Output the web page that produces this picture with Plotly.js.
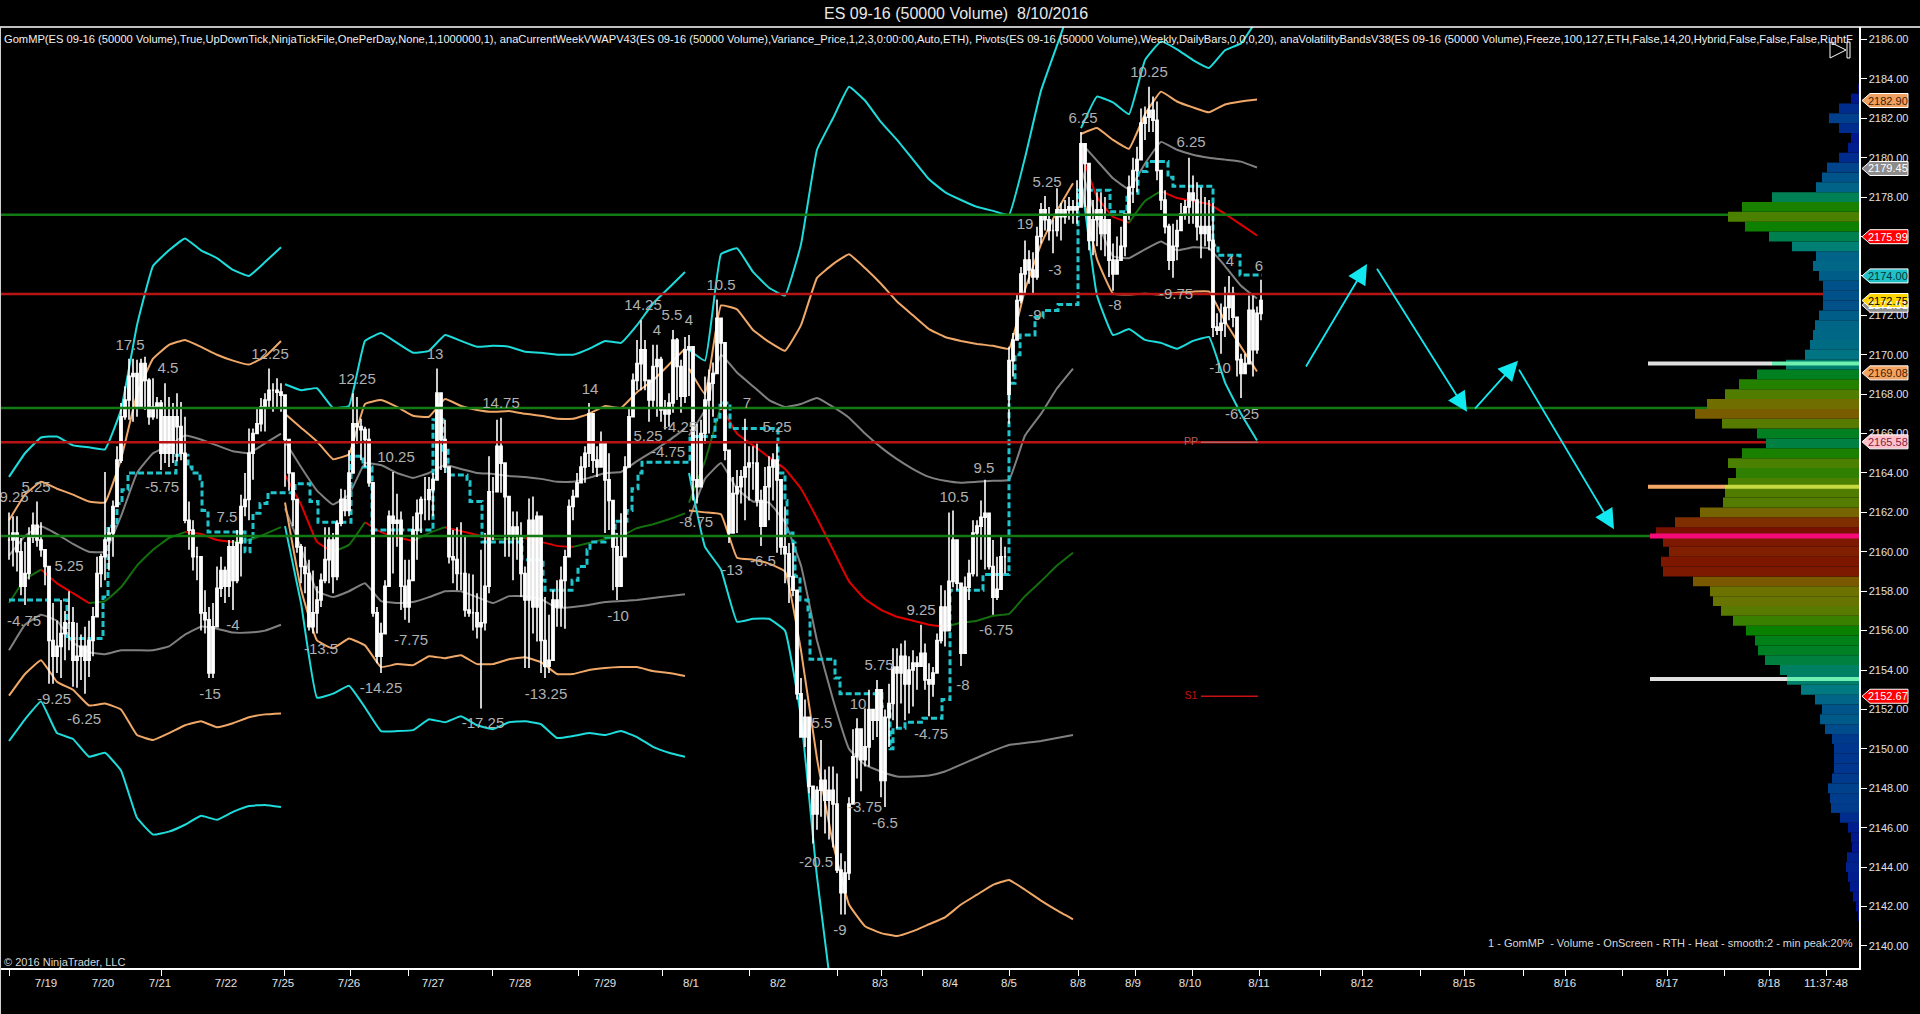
<!DOCTYPE html>
<html><head><meta charset="utf-8">
<script src="https://cdn.plot.ly/plotly-3.0.1.min.js"></script>
<style>html,body{margin:0;padding:0;background:#000;overflow:hidden}</style>
</head><body><div id="chart"></div>
<script>
// ---- price bars (bar index = position of a 50000-volume bar) ----
const barHigh=[2162,2161.8,2161.8,2160.7,2160.5,2161.25,2162,2162.55,2161.5,2160.1,
2158,2157.4,2156.5,2157.55,2157,2158,2157.2,2156.4,2155.8,2156.2,
2156.5,2157.2,2159.75,2159.9,2164.05,2161.25,2162.6,2165.35,2167.55,2168.4,
2169.8,2169.8,2169.75,2169.8,2169.9,2168.8,2168.8,2167.85,2167.7,2168.55,
2167.85,2167.55,2168.05,2167.6,2166.85,2162.55,2161.6,2160.25,2159.75,2158.05,
2157.2,2157.4,2159.25,2159.75,2159.25,2160.6,2160.6,2161.1,2162.9,2164,
2166.25,2166.25,2167.3,2167.8,2168.05,2169.3,2168.55,2168.8,2168.55,2166.2,
2165.35,2163.8,2162.3,2160.4,2160.25,2159.6,2159.05,2158.25,2158.9,2161.25,
2161.25,2160.95,2161.6,2163.2,2163.15,2165.15,2168.05,2167.85,2166.75,2166.35,
2166.25,2163.3,2157.2,2156.4,2158.55,2162.1,2164.05,2162.95,2162.05,2159.6,
2159.6,2161.8,2162.65,2162.8,2163.8,2163.8,2164,2169.3,2167.35,2166.7,
2164.15,2161.1,2161.25,2161.5,2160.75,2158.9,2158.85,2157.9,2160.1,2160.95,
2164.85,2163.8,2166.7,2166.8,2164.5,2162.8,2162.05,2162.05,2161.5,2159.25,
2162.7,2162.8,2162.05,2157.9,2157.7,2156.8,2158.05,2158.55,2159.25,2160.1,
2162.65,2163.15,2164,2164.85,2165.35,2167.55,2167,2165.35,2166.1,2165.35,
2165,2162.6,2160.95,2161.95,2164.85,2167.35,2169.05,2170.75,2171.75,2170.75,
2168.7,2170.5,2170.5,2169.9,2167.7,2168.05,2171.25,2170.85,2169.75,2170.9,
2171,2168.8,2166.5,2166.7,2168.9,2169.25,2169.6,2172.8,2171.85,2170.6,
2164.65,2163.8,2164.15,2164.15,2166.75,2165.35,2165.35,2165.5,2163.15,2164.3,
2164.85,2165,2165.5,2163.3,2162.3,2160.45,2160.45,2155,2153.6,2152.5,
2151.6,2148.1,2148.1,2150.45,2148.95,2149.1,2149.1,2148.75,2144.7,2144.3,
2147.55,2151,2151.55,2151,2152.05,2153,2152,2153.5,2151.55,2152,
2153.3,2155.1,2155.1,2155.35,2155.5,2154.7,2155,2154.7,2156.3,2155.35,
2154.35,2154.15,2155.85,2158.3,2158.05,2162,2162.1,2160.6,2158.2,2158.75,
2159.6,2161.6,2161.6,2162.6,2163.65,2161.95,2160.6,2159.75,2160.75,2160.25,
2170.4,2171.1,2173.1,2174.45,2175.8,2175.3,2175.2,2176.5,2177.7,2178.05,
2177.5,2176.85,2178.45,2177.7,2177.85,2178,2177.85,2178.85,2181.3,2180.05,
2178.7,2177.85,2178.25,2178.25,2178,2176.85,2175.65,2176,2176.5,2177.15,
2179.1,2180,2180.55,2182.5,2182.6,2183.6,2183.1,2182.85,2179.35,2178.35,
2176.65,2176.65,2176.85,2177.7,2177.85,2180,2179.1,2178.75,2178.5,2178,
2177.85,2177.7,2172.1,2172.6,2173.45,2174,2173.45,2171.9,2170.05,2170.05,
2173,2173,2172.45,2173.8];
const barLow=[2159.6,2159.25,2159,2157.8,2157.3,2158.6,2160.45,2160.25,2159.75,2158.3,
2153.3,2153.3,2153.85,2153.6,2154.5,2155,2153.15,2153.1,2153.5,2152.8,
2153.65,2154.7,2157.2,2158.2,2158.55,2159.05,2159.75,2162.3,2164.5,2166.7,
2166.7,2166.6,2166.85,2167.5,2167.2,2166.45,2166.7,2166.75,2164.15,2164.5,
2164.3,2164.5,2164.6,2164.65,2161.45,2160.1,2159.05,2158.55,2156,2155.85,
2153.6,2153.6,2157.55,2157.7,2157.4,2157.7,2157.05,2158.4,2158.75,2161.8,
2161.6,2163.65,2166.2,2166.1,2166.1,2167.35,2167.1,2167.35,2167.1,2163.3,
2163.1,2161.3,2159.95,2158.4,2157.9,2156,2155.85,2155.85,2157.2,2158.4,
2158.4,2157.9,2158.55,2161.3,2161.8,2161.8,2164.85,2165.5,2164.65,2164.3,
2163.3,2156.7,2154.35,2153.85,2156.2,2158.55,2158.9,2160.25,2157.05,2156.55,
2156.4,2159.75,2159.6,2160.95,2161.6,2161.6,2161.8,2166.85,2164.15,2164,
2159.4,2158.4,2158.05,2158.05,2156.7,2156.7,2156,2155.6,2152.05,2156,
2157.9,2160.6,2163.15,2163,2159.75,2159.75,2158.55,2159.6,2157.7,2154.1,
2154.1,2155.85,2155.45,2153.85,2153.6,2153.85,2154.5,2156.2,2156.2,2156.1,
2159.75,2161.6,2162.8,2163.5,2163.5,2164.3,2164,2163.8,2164.3,2160.95,
2161.1,2158.05,2157.55,2159.4,2159.75,2164.65,2167.35,2168.2,2168.2,2168.2,
2166.6,2167.35,2166.85,2166.6,2166.2,2166.35,2167.05,2167.7,2167.05,2167.55,
2167.9,2162.6,2162.45,2163.3,2165.5,2166,2166.85,2169.05,2167.2,2164.65,
2160.45,2160.95,2160.95,2162.45,2161.6,2162.6,2163.15,2162.3,2160.3,2161.8,
2161.6,2162.6,2159.95,2159.85,2158.4,2157.4,2157.75,2152.5,2150.6,2150.1,
2147.75,2145.2,2145.9,2146.55,2145.7,2145.4,2145,2143.7,2141.6,2141.6,
2143.35,2147.2,2148.5,2147.85,2149.1,2149.1,2150.45,2150.6,2147.55,2147.05,
2150.1,2151.45,2151.05,2152.3,2151.45,2151.8,2152.15,2153,2154.15,2153,
2151.65,2152.65,2153.85,2155.35,2155.2,2158,2158.2,2158.05,2154.2,2155.2,
2157.55,2158.75,2158.75,2159.6,2159.1,2159.1,2156.8,2157.55,2158.9,2158.9,
2166.5,2168.9,2170.9,2172.6,2173.1,2173.6,2173.1,2173.8,2175.65,2176.3,
2175.8,2175.15,2176,2175.8,2176.65,2176.85,2176.65,2176.65,2178.85,2177.5,
2175.3,2175.05,2175.5,2175.3,2175,2173.95,2173.25,2174.45,2175.15,2175,
2176.85,2177.7,2178.25,2180.9,2180.9,2181.3,2181.3,2178.85,2177.35,2176.15,
2174.3,2173.9,2174.8,2176.3,2176.85,2176.65,2176.65,2175.8,2174.9,2175.5,
2175.3,2170.9,2171,2170.05,2170.9,2171.75,2171.4,2168.9,2167.8,2169.05,
2169.75,2168.9,2170.05,2171.75];
const barClose=[2160.6,2160.95,2160,2158.25,2158.9,2160.75,2161.35,2160.6,2160.1,2159.25,
2155.5,2154.7,2155.2,2155.85,2156.4,2156.4,2154.5,2154.7,2155.2,2154.5,
2155.5,2156.7,2158.9,2159.75,2160.6,2160.95,2162.3,2164.65,2166.85,2167.7,
2168.9,2169.05,2167.35,2169.55,2168.7,2166.85,2167.35,2167.55,2165,2166.85,
2165,2166.85,2166.35,2165,2161.6,2161.1,2159.75,2159.75,2156.9,2156.55,
2153.85,2156.2,2158.15,2159.05,2158.25,2160.25,2158.55,2160.45,2162.3,2162.65,
2165,2166,2166.5,2167.35,2167.7,2168.2,2168.2,2168.1,2167.95,2165.7,
2164,2162.65,2160.25,2159.25,2158.9,2156.2,2156.9,2157.55,2158.55,2159.6,
2160.6,2158.75,2161.45,2162.65,2162.1,2164,2166.5,2166.35,2166.2,2165.7,
2163.5,2156.9,2154.7,2155.85,2158.25,2161.8,2161.45,2161.6,2158.25,2157.2,
2158.55,2161.1,2161.95,2162.65,2162.65,2163.15,2163.65,2168.05,2165.7,2164.3,
2159.75,2159.6,2158.9,2158.9,2157.05,2156.9,2156.9,2156.2,2156.4,2158.25,
2163.05,2163.05,2165.35,2164.5,2162.8,2160.8,2161.25,2160.8,2158.9,2157.55,
2161.6,2157.2,2161.8,2155.5,2154.2,2154.5,2157.55,2157.2,2158.55,2159.75,
2162.3,2162.8,2163.5,2164.3,2165,2167,2164.65,2164.3,2165.5,2163.65,
2162.6,2160.25,2158.25,2159.75,2164.3,2166.85,2168.7,2169.55,2170.25,2168.7,
2167.7,2169.4,2169.75,2167.2,2167,2167.55,2170.75,2169.4,2167.9,2170.25,
2170.4,2163.65,2163.3,2166,2167.7,2168.55,2169.05,2171.85,2170.6,2165.15,
2160.95,2162.95,2163.3,2163.8,2164.3,2164.5,2164.5,2162.6,2161.3,2163.3,
2164.3,2164.65,2163.65,2160.25,2159.9,2158.75,2158.05,2152.8,2150.6,2151.6,
2148.1,2146.7,2147.9,2148.4,2147.4,2147.9,2147.2,2143.85,2142.7,2143.7,
2147.2,2149.6,2151,2149.45,2150.1,2152,2151.45,2153,2148.4,2151.6,
2152.3,2154.15,2153.85,2154.7,2153.3,2154,2154.35,2154.2,2154.85,2153.5,
2153.3,2153.85,2155.5,2157.2,2156,2158.5,2160.6,2158.4,2154.85,2158.2,
2158.9,2160.95,2161.3,2161.75,2161.95,2159.25,2157.7,2158.1,2159.75,2159.75,
2169.7,2170.75,2172.75,2174.1,2174.8,2174.3,2173.95,2176,2177.35,2176.85,
2176.3,2176.3,2177.35,2177,2177.35,2177.5,2177.35,2177.5,2180.7,2179.7,
2175.8,2176.85,2177.35,2176.15,2176.85,2174.8,2174.1,2174.8,2175.5,2177.15,
2178.5,2179.35,2179.9,2181.75,2182.05,2182.4,2181.9,2179.35,2177.85,2176.5,
2174.8,2175.5,2176.3,2177.15,2177.5,2178.2,2177.85,2176.5,2176.15,2176.5,
2175.8,2171.4,2171.25,2171.6,2172.4,2173.1,2171.9,2169.75,2169.05,2169.55,
2172.25,2170.25,2172.1,2172.75];
const gapBars=[250], gapOpens=[2168];

// ---- weekly VWAP + volatility bands, one value every 4 bars ----
const weekStartBars=[0,69,170,268];
const cyanUpA=[2163.8,2165,2165.8,2165.85,2165.4,2165.3,2165.2,2167.2,2171.5,2174.5,2175.3,2175.9,2175.3,2174.9,2174.3,2174,2174.7,2175.45];
const orangeUpA=[2161.6,2162.9,2163.55,2163.2,2162.9,2162.55,2162.5,2164.7,2168,2169.8,2170.5,2170.75,2170.4,2170,2169.7,2169.5,2169.9,2170.7];
const greyUpA=[2159.8,2160.8,2161.3,2160.9,2160.4,2160,2160,2161.8,2164,2165,2165.4,2165.9,2165.7,2165.4,2165.1,2165,2165.5,2166];
const vwapA=[2157.4,2158.6,2159.1,2158.4,2157.9,2157.4,2157.5,2158.2,2159.3,2160.1,2160.7,2161,2160.9,2160.6,2160.5,2160.6,2160.9,2161.25];
const greyLowA=[2155,2156.3,2156.8,2156.5,2155.4,2154.9,2154.8,2155,2155,2155,2155.2,2155.8,2156.2,2156.1,2155.9,2155.9,2156,2156.3];
const orangeLowA=[2152.7,2153.8,2154.5,2153.4,2153,2152.2,2152.3,2152,2150.7,2150.45,2150.8,2151.2,2151.4,2151.1,2151.3,2151.6,2151.75,2151.8];
const cyanLowA=[2150.4,2151.5,2152.4,2150.8,2150.5,2149.6,2149.8,2148.9,2146.5,2145.65,2145.8,2146.15,2146.6,2146.4,2146.8,2147.1,2147.15,2147.05];

const cyanUpB=[2168.5,2168.2,2168.3,2167.3,2167.4,2170.7,2171.1,2170.6,2170.1,2170.2,2171,2170.7,2170.4,2170.45,2170.4,2170.15,2170.1,2170,2170,2170.3,2170.7,2170.6,2171.5,2172.6,2173.4,2174.2];
const orangeUpB=[2167,2166.3,2165.6,2164.7,2164.95,2167.5,2167.7,2167.35,2166.9,2166.85,2167.75,2167.4,2167.2,2167.1,2167.15,2167,2166.9,2166.75,2166.75,2167,2167.4,2167.3,2168.1,2168.7,2169.5,2170.3];
const greyUpB=[2165.6,2164.3,2163.1,2162.4,2162.9,2164.5,2164.4,2164,2163.75,2164,2164.4,2164.2,2164,2163.95,2163.85,2163.8,2163.7,2163.55,2163.55,2163.75,2164,2164.05,2164.6,2165.1,2165.65,2166.25];
const vwapB=[2163.9,2162.4,2160.5,2160,2160.35,2161.5,2161,2160.75,2160.55,2160.95,2161.25,2161.05,2160.85,2160.65,2160.65,2160.7,2160.5,2160.3,2160.25,2160.45,2160.65,2160.8,2161.2,2161.4,2161.65,2161.95];
const greyLowB=[2162.2,2160.2,2158,2157.7,2158,2158.4,2157.5,2157.4,2157.45,2157.7,2158,2158,2157.7,2157.4,2157.75,2157.75,2157.6,2157.15,2157.2,2157.3,2157.45,2157.5,2157.55,2157.65,2157.75,2157.85];
const orangeLowB=[2162.5,2158.1,2155.5,2155.1,2155.6,2155.25,2154.15,2154.3,2154.25,2154.7,2154.6,2154.75,2154.3,2154.3,2154.55,2154.65,2154.4,2153.8,2153.8,2154,2154.1,2154.15,2154.15,2153.95,2153.85,2153.7];
const cyanLowB=[2161.3,2157.4,2152.6,2152.8,2153.2,2152.1,2150.9,2150.9,2150.95,2151.5,2151.35,2151.65,2151.2,2151,2151.35,2151.4,2151.25,2150.55,2150.65,2150.8,2150.7,2150.9,2150.6,2150.1,2149.8,2149.6];

const cyanUpC=[2170.25,2169.7,2175.1,2175.4,2174.2,2173.4,2173,2175.6,2180.4,2182,2183.6,2182.9,2181.8,2180.9,2179.9,2178.9,2178.25,2177.85,2177.5,2177.3,2177.1,2180,2183.4,2185.7,2188];
const orangeUpC=[2169.3,2168,2172.5,2172.3,2171.25,2170.65,2170.2,2171.5,2173.9,2174.6,2175.1,2174.4,2173.6,2172.7,2172,2171.3,2170.9,2170.7,2170.55,2170.45,2170.3,2173.3,2175.6,2177.3,2178.7];
const greyUpC=[2165.9,2167.2,2170,2169.1,2168.4,2167.7,2167.35,2167.5,2167.8,2167.35,2166.8,2166,2165.3,2164.7,2164.2,2163.8,2163.6,2163.5,2163.55,2163.6,2163.65,2165.9,2167,2168.3,2169.3];
const vwapC=[2162.5,2164.6,2167.4,2166,2165.4,2164.8,2164.2,2163.2,2161.7,2160.1,2158.5,2157.6,2157.05,2156.7,2156.5,2156.3,2156.2,2156.4,2156.5,2156.75,2156.85,2157.75,2158.5,2159.3,2159.95];
const greyLowC=[2161.6,2163.7,2164.5,2163.2,2162.55,2162.5,2161.5,2159.3,2155.5,2152.5,2150,2149.2,2148.85,2148.6,2148.6,2148.65,2148.85,2149.2,2149.55,2149.9,2150.2,2150.3,2150.4,2150.55,2150.7];
const orangeLowC=[2162.1,2162,2161.9,2159.7,2159.6,2159.4,2159,2155,2149.5,2145.2,2142.1,2141,2140.65,2140.5,2140.75,2141.1,2141.45,2142.1,2142.6,2143.1,2143.35,2142.85,2142.3,2141.8,2141.35];
const cyanLowC=[2164,2160.25,2159.1,2156.45,2156.6,2156.6,2156,2151.6,2143.5,2137];

const cyanUpD=[2181.5,2183.1,2182.8,2182.2,2184.95,2185.9,2185.5,2184.95,2184.55,2185.45,2185.8,2187];
const orangeUpD=[2181.2,2181.5,2180.9,2180.45,2182.2,2183.35,2182.85,2182.55,2182.3,2182.7,2182.85,2182.95];
const greyUpD=[2180.75,2179.85,2178.95,2178.4,2179.7,2180.8,2180.4,2180.15,2180,2179.9,2179.8,2179.5];
const vwapD=[2180.3,2178,2177,2176.7,2177.8,2178.3,2177.95,2177.8,2177.65,2177.15,2176.6,2176.05];
const greyLowD=[2179.5,2176.8,2175,2174.9,2175.35,2175.75,2175.3,2175.45,2175.4,2174.5,2173.5,2172.85];
const orangeLowD=[2178.6,2174.85,2173.1,2173.05,2173.1,2173.05,2173.15,2173.2,2173.2,2171.7,2170.4,2169.15];
const cyanLowD=[2179,2173,2171,2171.3,2170.75,2170.6,2170.3,2170.7,2170.9,2168.6,2167,2165.65];

// ---- dashed step line ----
const stepBars=[0,14.5,23.5,24.75,27,28.25,29.75,41.75,44.75,45.75,47.75,48.25,49.75,59,60.25,61,62.75,64.5,64.75,71.5,75.25,77.25,85.5,88.5,90.75,106,108.5,109.75,114.5,115.25,118.25,128.25,133.5,134,140.75,142.25,144.5,145.25,149,151.5,154.5,155.75,157.25,158.25,170.25,176.5,177.75,180.25,192.25,194,194.5,196,196.5,197.75,199.75,200.25,206.5,207.75,218.25,220.25,221,224,228.5,233.25,235.25,243.5,250,251.5,252.75,256.5,258.5,262.25,267.25,275.25,279.5,282.25,284.5,289.75,291,301,302.25,307.75,313.25];
const stepLevels=[2157.55,2155.6,2157.7,2161.3,2162.45,2163.15,2164,2164.9,2164.3,2164,2163.5,2162.1,2161,2160,2160.6,2161.95,2162.45,2162.6,2163,2163.45,2162.55,2161.5,2164.85,2164.3,2161.1,2166.7,2165.15,2163.9,2163.55,2162.55,2160.5,2159.6,2158.55,2158.05,2158.55,2159.25,2160.1,2160.5,2160.75,2161.55,2162.1,2163.2,2164,2164.55,2165.85,2166.7,2167.55,2166.25,2164,2162.6,2160.95,2160.45,2158.75,2157.55,2157.05,2154.55,2153.6,2152.8,2152.15,2150,2151.05,2151.35,2151.55,2152.5,2158.05,2158.85,2168.55,2170,2171,2171.9,2172.25,2172.55,2178.35,2177.25,2178.2,2179.3,2179.8,2179,2178.55,2175.55,2175.05,2174.05,2174.05];

// ---- horizontal levels ----
const levelPrices=[2177.1,2173.08,2167.3,2165.56,2160.8];
const levelColors=['#127a12','#b81414','#127a12','#b81414','#127a12'];

// ---- volume profile ----
const profilePrice=[2141.5,2142,2142.5,2143,2143.5,2144,2144.5,2145,2145.5,2146,2146.5,2147,2147.5,2148,2148.5,2149,2149.5,2150,2150.5,2151,2151.5,2152,2152.5,2153,2153.5,2154,2154.5,2155,2155.5,2156,2156.5,2157,2157.5,2158,2158.5,2159,2159.5,2160,2160.5,2161,2161.5,2162,2162.5,2163,2163.5,2164,2164.5,2165,2165.5,2166,2166.5,2167,2167.5,2168,2168.5,2169,2169.5,2170,2170.5,2171,2171.5,2172,2172.5,2173,2173.5,2174,2174.5,2175,2175.5,2176,2176.5,2177,2177.5,2178,2178.5,2179,2179.5,2180,2180.5,2181,2181.5,2182,2182.5,2183,2183.5];
const profileVolume=[1,3,6,9,11,13,12,7,8,11,19,28,29,31,27,25,25,25,27,34,39,37,44,58,72,79,94,101,104,113,126,138,146,149,166,196,198,190,196,203,184,159,136,134,131,123,131,117,93,102,137,164,152,134,120,102,73,54,49,46,44,40,36,36,36,40,46,43,67,90,114,131,117,87,43,37,32,20,11,8,20,30,20,8,1];
const heatScale=[[0,'#000a90'],[0.15,'#00408c'],[0.2,'#006088'],[0.3,'#007f7f'],[0.44,'#008050'],[0.54,'#008000'],[0.64,'#4a8000'],[0.74,'#707000'],[0.81,'#7a5a00'],[0.93,'#802000'],[1,'#7a1000']];
const vaLevels=[2169.55,2163.3,2153.55];
const vaOuterWidth=[211,211,209];
const vaInnerWidth=[87,134,72];
const vaOuterColors=['#e0e0e0','#f4a868','#e0e0e0'];
const vaInnerColors=['#70f0b0','#c8d840','#70f0b0'];
const pocLevel=2160.8, pocWidth=209;

// ---- swing labels ----
const labelTexts=['9.25','5.25','5.25','-4.75','17.5','4.5','-5.75','7.5','-4','12.25','-15','-9.25','-6.25','-13.5','12.25','10.25','13','14.75','-7.75','-14.25','-13.25','14','-17.25','-10','14.25','5.5','4','4','10.5','-4.25','5.25','-4.75','-8.75','7','5.25','-13','-6.5','5.75','10','5.5','9.25','-8','-4.75','-3.75','-6.5','-20.5','-9','10.5','9.5','-6.75','5.25','19','-3','-9','6.25','10.25','6.25','-8','-9.75','4','6','-10','-6.25'];
const labelBars=[1.25,6.75,15,3.75,30.25,39.75,38.25,54.5,56,65.25,50.25,11.25,18.75,78,87,96.75,106.5,123,100.5,93,134.25,145.25,118.5,152.25,158.5,165.75,170,162,178,167.75,159.75,164.75,171.75,184.5,192,180.75,188.5,217.5,212.25,203.25,228,238.5,230.5,214,219,201.75,207.75,236.25,243.75,246.75,259.5,254,261.5,256.5,268.5,285,295.5,276.5,291.75,305.25,312.5,302.75,308.25];
const labelPrices=[2162.7,2163.2,2159.2,2156.45,2170.45,2169.25,2163.2,2161.7,2156.2,2169.95,2152.7,2152.45,2151.45,2155,2168.7,2164.75,2169.95,2167.5,2155.45,2153,2152.7,2168.2,2151.25,2156.7,2172.45,2171.95,2171.7,2171.2,2173.45,2166.25,2165.8,2165,2161.45,2167.5,2166.25,2159,2159.45,2154.2,2152.2,2151.25,2157,2153.2,2150.7,2147,2146.2,2144.2,2140.75,2162.7,2164.2,2155.95,2178.7,2176.55,2174.25,2171.95,2181.95,2184.3,2180.75,2172.45,2173,2174.7,2174.45,2169.25,2166.95];

// ---- pivots ----
const pivotNames=['PP','S1'];
const pivotLevels=[2165.56,2152.67];
const pivotColors=['#b06060','#c81010'];

// ---- hand-drawn forecast arrows ----
const arrowTailBars=[323.5,341.25,365.75,376.75];
const arrowTailPrices=[2169.15,2174.6,2167.1,2169.5];
const arrowHeadBars=[339.5,364.5,377.25,401.25];
const arrowHeadPrices=[2174.6,2167.1,2169.7,2161.15];

// ---- price tags on the axis ----
const tagValues=[2182.90,2179.45,2175.99,2174.00,2172.51,2172.75,2169.08,2165.58,2152.67];
const tagFills=['#f0a060','#8c8c8c','#ff0000','#20c0c8','#8c8c8c','#ffd700','#f4a460','#ffc0cb','#ff0000'];
const tagInk=['#402000','#ffffff','#ffffff','#003838','#ffffff','#000000','#402000','#802040','#ffffff'];

// ---- axes ----
const tickBars=[9.25,23.5,37.75,54.25,68.5,85,106,127.75,149,170.5,192.25,217.75,235.25,250,267.25,281,295.25,312.5,338.25,363.75,389,414.5,440,454.25];
const tickTexts=['7/19','7/20','7/21','7/22','7/25','7/26','7/27','7/28','7/29','8/1','8/2','8/3','8/4','8/5','8/8','8/9','8/10','8/11','8/12','8/15','8/16','8/17','8/18','11:37:48'];
const minorTickBars=[0,38,68.75,85.25,99.75,120.75,142.25,163.25,185,207,218,228.25,250,267.25,281.5,295.75,312.5,327.75,338.25,352.75,363.75,378.5,389,403.25,414.5,428.75,440,454.25];
const priceTicks=[2140,2142,2144,2146,2148,2150,2152,2154,2156,2158,2160,2162,2164,2166,2168,2170,2172,2174,2176,2178,2180,2182,2184,2186];

const titleText='ES 09-16 (50000 Volume)  8/10/2016';
const indicatorText='GomMP(ES 09-16 (50000 Volume),True,UpDownTick,NinjaTickFile,OnePerDay,None,1,1000000,1), anaCurrentWeekVWAPV43(ES 09-16 (50000 Volume),Variance_Price,1,2,3,0:00:00,Auto,ETH), Pivots(ES 09-16 (50000 Volume),Weekly,DailyBars,0,0,0,20), anaVolatilityBandsV38(ES 09-16 (50000 Volume),Freeze,100,127,ETH,False,14,20,Hybrid,False,False,False,RightF';
const footerLeft='\u00A9 2016 NinjaTrader, LLC';
const footerRight='1 - GomMP  - Volume - OnScreen - RTH - Heat - smooth:2 - min peak:20%';

// ---- build ----
const W=1920,H=1014,ML=1,MR=61,MT=27,MB=46;
const PW=W-ML-MR,PH=H-MT-MB;
const xRange=[-2,462.5], yRange=[2138.88,2186.63];
const px=x=>(x-ML)/PW, py=y=>(H-MB-y)/PH;
const FONT='"Liberation Sans",Arial,sans-serif';
const traces=[];
const weeks=[
 [cyanUpA,orangeUpA,greyUpA,vwapA,greyLowA,orangeLowA,cyanLowA],
 [cyanUpB,orangeUpB,greyUpB,vwapB,greyLowB,orangeLowB,cyanLowB],
 [cyanUpC,orangeUpC,greyUpC,vwapC,greyLowC,orangeLowC,cyanLowC],
 [cyanUpD,orangeUpD,greyUpD,vwapD,greyLowD,orangeLowD,cyanLowD]];
const bandColors=['#1fdcdc','#f0a868','#808080',null,'#808080','#f0a868','#1fdcdc'];
function addLine(x,y,color,width){traces.push({type:'scatter',mode:'lines',x,y,line:{color,width,shape:'spline',smoothing:0.3},hoverinfo:'skip',showlegend:false});}
weeks.forEach((wk,w)=>{
  wk.forEach((vals,b)=>{
    const xs=vals.map((_,i)=>weekStartBars[w]+4*i);
    if(b!==3){addLine(xs,vals,bandColors[b],2);return;}
    // VWAP: red while falling, green while rising
    let s=0;
    for(let i=1;i<vals.length;i++){
      const dn=vals[i]<vals[i-1];
      const nextDn=i+1<vals.length?vals[i+1]<vals[i]:dn;
      if(i===vals.length-1||dn!==nextDn){
        addLine(xs.slice(s,i+1),vals.slice(s,i+1),dn?'#e00000':'#146e0e',2);
        s=i;
      }
    }
  });
});
traces.push({type:'scatter',mode:'lines',x:stepBars,y:stepLevels,line:{color:'#1fc4cc',width:3,shape:'hv',dash:'6px,3px'},hoverinfo:'skip',showlegend:false});

// candles on overlay axes, above bands
const barIdx=barClose.map((_,i)=>i);
const barOpen=barClose.map((c,i)=>{const g=gapBars.indexOf(i);return g>=0?gapOpens[g]:(i?barClose[i-1]:c);});
traces.push({type:'candlestick',xaxis:'x2',yaxis:'y2',x:barIdx,open:barOpen,high:barHigh,low:barLow,close:barClose,whiskerwidth:0,
  increasing:{line:{color:'#fff',width:1.6},fillcolor:'#fff'},decreasing:{line:{color:'#fff',width:1.6},fillcolor:'#fff'},hoverinfo:'skip',showlegend:false});
levelPrices.forEach((p,i)=>traces.push({type:'scatter',mode:'lines',xaxis:'x2',yaxis:'y2',x:xRange,y:[p,p],line:{color:levelColors[i],width:2.4},hoverinfo:'skip',showlegend:false}));
pivotLevels.forEach((p,i)=>traces.push({type:'scatter',mode:'lines',xaxis:'x2',yaxis:'y2',x:[298,312.25],y:[p,p],line:{color:pivotColors[i],width:1.5},hoverinfo:'skip',showlegend:false}));
traces.push({type:'scatter',mode:'text',xaxis:'x2',yaxis:'y2',x:[295.5,295.5],y:pivotLevels,text:pivotNames,textposition:'middle center',textfont:{family:FONT,size:10.5,color:pivotColors},hoverinfo:'skip',showlegend:false});
traces.push({type:'scatter',mode:'text',xaxis:'x2',yaxis:'y2',x:labelBars,y:labelPrices,text:labelTexts,textposition:'middle center',textfont:{family:FONT,size:15,color:'#b0b0b0'},hoverinfo:'skip',showlegend:false});

// profile on a reversed overlay axis
traces.push({type:'bar',orientation:'h',xaxis:'x3',yaxis:'y3',y:profilePrice,x:profileVolume,width:0.5,marker:{color:profileVolume,colorscale:heatScale,cmin:0,cmax:204,line:{width:0}},hoverinfo:'skip',showlegend:false});
vaLevels.forEach((p,i)=>{
  traces.push({type:'scatter',mode:'lines',xaxis:'x3',yaxis:'y3',x:[vaOuterWidth[i],vaInnerWidth[i]],y:[p,p],line:{color:vaOuterColors[i],width:4},hoverinfo:'skip',showlegend:false});
  traces.push({type:'scatter',mode:'lines',xaxis:'x3',yaxis:'y3',x:[vaInnerWidth[i],0],y:[p,p],line:{color:vaInnerColors[i],width:4},hoverinfo:'skip',showlegend:false});
});
traces.push({type:'scatter',mode:'lines',xaxis:'x3',yaxis:'y3',x:[pocWidth,0],y:[pocLevel,pocLevel],line:{color:'#f50a78',width:5},hoverinfo:'skip',showlegend:false});

const annotations=[];
const txt=(x,y,text,size,color,anchor)=>annotations.push({xref:'paper',yref:'paper',x:px(x),y:py(y),text,showarrow:false,xanchor:anchor,yanchor:'middle',font:{family:FONT,size,color},borderpad:0});
txt(956,13,titleText,16,'#e8e8e8','center');
txt(3,39,indicatorText,11.15,'#f0f0f0','left');
txt(3,962,footerLeft,11,'#d8d8d8','left');
txt(1854,943,footerRight,11,'#d8d8d8','right');
arrowHeadBars.forEach((hx,i)=>annotations.push({x:hx,y:arrowHeadPrices[i],ax:arrowTailBars[i],ay:arrowTailPrices[i],xref:'x',yref:'y',axref:'x',ayref:'y',text:' ',showarrow:true,arrowhead:2,arrowsize:2.2,arrowwidth:1.8,arrowcolor:'#12e8f0'}));

const shapes=[];
tagValues.forEach((v,i)=>{
  shapes.push({type:'path',xref:'paper',x0:0,xsizemode:'pixel',xanchor:1,yref:'y',ysizemode:'pixel',yanchor:v,
    path:'M3,0 L11,7 L49,7 L49,-7 L11,-7 Z',fillcolor:tagFills[i],line:{color:'#ffffff',width:1},layer:'above'});
  annotations.push({xref:'paper',x:1,xshift:29,yref:'y',y:v,text:v.toFixed(2),showarrow:false,xanchor:'center',yanchor:'middle',font:{family:FONT,size:11,color:tagInk[i]},borderpad:0});
});
// top and left frame, small pane icon
shapes.push({type:'line',xref:'paper',yref:'paper',x0:-0.001,x1:1.033,y0:1,y1:1,line:{color:'#fff',width:1.5}});
shapes.push({type:'line',xref:'paper',yref:'paper',x0:-0.0003,x1:-0.0003,y0:1,y1:-0.05,line:{color:'#ddd',width:1}});
shapes.push({type:'path',xref:'paper',yref:'paper',path:`M${px(1830)},${py(42)} L${px(1846)},${py(50)} L${px(1830)},${py(58)} Z`,line:{color:'#fff',width:1},fillcolor:'rgba(0,0,0,0)'});
shapes.push({type:'rect',xref:'paper',yref:'paper',x0:px(1847),x1:px(1850),y0:py(58),y1:py(42),line:{color:'#fff',width:1},fillcolor:'rgba(0,0,0,0)'});

const layout={
  width:W,height:H,autosize:false,paper_bgcolor:'#000',plot_bgcolor:'#000',showlegend:false,
  margin:{l:ML,r:MR,t:MT,b:MB,pad:0},hovermode:false,dragmode:false,boxgap:0.45,boxgroupgap:0,
  xaxis:{range:xRange,tickmode:'array',tickvals:tickBars,ticktext:tickTexts,ticks:'outside',ticklen:4,tickcolor:'rgba(0,0,0,0)',
    tickfont:{family:FONT,size:11.5,color:'#e0e0e0'},tickangle:0,showgrid:false,zeroline:false,showline:true,linecolor:'#fff',linewidth:1.5,
    minor:{tickmode:'array',tickvals:minorTickBars,ticks:'outside',ticklen:6,tickcolor:'#fff',tickwidth:1,showgrid:false}},
  yaxis:{range:yRange,side:'right',tickmode:'array',tickvals:priceTicks,tickformat:'.2f',ticks:'outside',ticklen:6,tickcolor:'#fff',
    tickfont:{family:FONT,size:11,color:'#e0e0e0'},showgrid:false,zeroline:false,showline:true,linecolor:'#fff',linewidth:1.5},
  xaxis2:{overlaying:'x',range:xRange,visible:false,rangeslider:{visible:false}},
  yaxis2:{overlaying:'y',range:yRange,visible:false},
  xaxis3:{overlaying:'x',range:[PW,0],visible:false},
  yaxis3:{overlaying:'y',range:yRange,visible:false},
  annotations,shapes
};
Plotly.newPlot('chart',traces,layout,{displayModeBar:false,staticPlot:true});
</script></body></html>
